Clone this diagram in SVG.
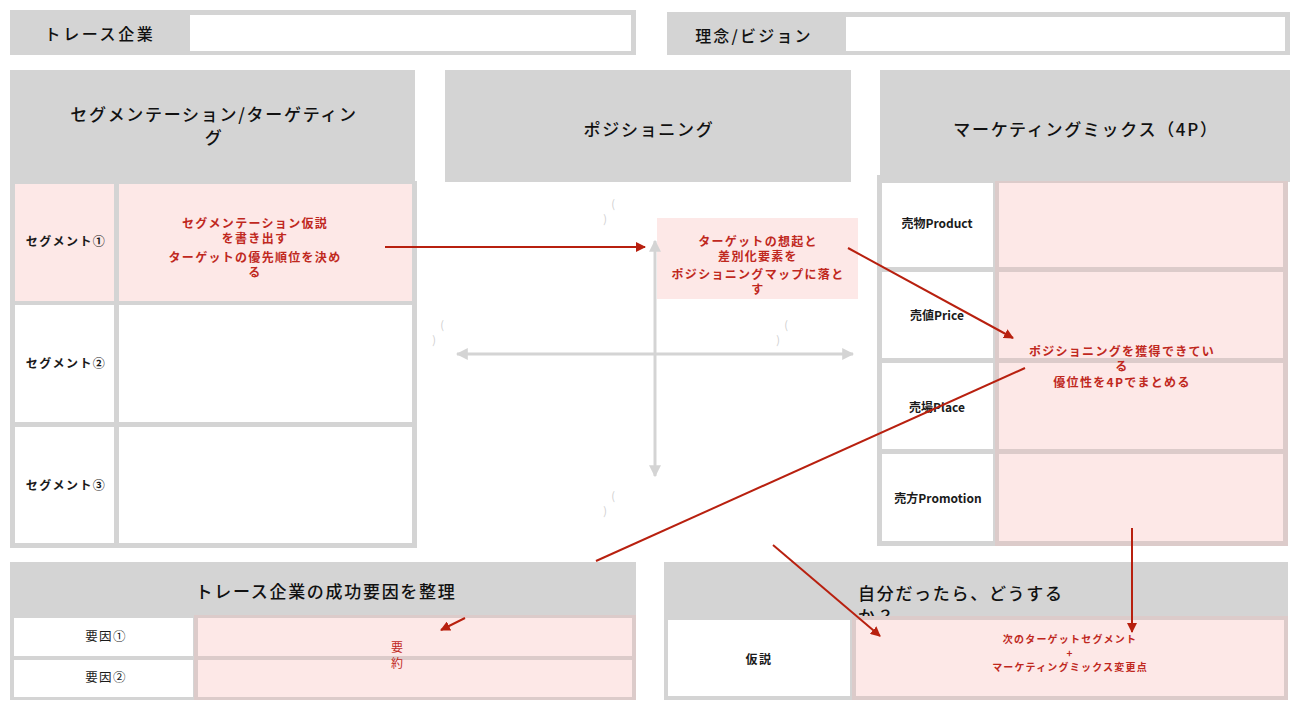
<svg xmlns="http://www.w3.org/2000/svg" width="1304" height="715" viewBox="0 0 1304 715">
<defs>
<marker id="ar" viewBox="0 0 10 10" refX="9" refY="5" markerWidth="5" markerHeight="5" orient="auto-start-reverse" markerUnits="strokeWidth"><path d="M0,0 L10,5 L0,10 z" fill="#b8200f"/></marker>
<marker id="ag" viewBox="0 0 10 10" refX="9" refY="5" markerWidth="4" markerHeight="4" orient="auto-start-reverse" markerUnits="strokeWidth"><path d="M0,0 L10,5 L0,10 z" fill="#d4d4d4"/></marker>
<style>
text{font-family:"Noto Sans CJK JP","Liberation Sans",sans-serif;}
.g{fill:#d4d4d4;}
.w{fill:#ffffff;}
.p{fill:#fde8e7;}
.pb{fill:#dccbca;}
.h{font-size:17px;letter-spacing:1.7px;fill:#111111;text-anchor:middle;font-weight:500;}
.l{font-size:12px;letter-spacing:1.4px;fill:#1a1a1a;text-anchor:middle;font-weight:bold;}
.m{font-size:12px;fill:#1a1a1a;text-anchor:middle;font-weight:bold;}
.r{font-size:12px;letter-spacing:1.3px;fill:#c0281e;text-anchor:middle;font-weight:bold;}
.rs{font-size:10px;letter-spacing:1.2px;fill:#c0281e;text-anchor:middle;font-weight:bold;}
.par{font-size:11px;fill:#cfcfcf;text-anchor:middle;}
.cn{stroke:#b8200f;stroke-width:2;fill:none;marker-end:url(#ar);}
.ax{stroke:#d4d4d4;stroke-width:3;fill:none;marker-end:url(#ag);marker-start:url(#ag);}
</style>
</defs>

<g id="trace-company">
<rect class="g" x="10" y="10" width="175" height="45"/>
<text class="h" x="100" y="40" style="font-size:16px;letter-spacing:2.6px">トレース企業</text>
<rect class="g" x="185" y="10" width="451" height="45"/>
<rect class="w" x="190" y="15" width="441" height="36"/>
</g>

<g id="vision">
<rect class="g" x="667" y="12" width="173" height="43"/>
<text class="h" x="754" y="42" style="font-size:16px;letter-spacing:2.2px">理念/ビジョン</text>
<rect class="g" x="840" y="12" width="450" height="43"/>
<rect class="w" x="846" y="17" width="439" height="34"/>
</g>

<g id="segmentation">
<rect class="g" x="10" y="70" width="405" height="112"/>
<text class="h" x="214" y="121">セグメンテーション/ターゲティン</text>
<text class="h" x="214" y="144">グ</text>
<rect class="g" x="10" y="181" width="407" height="367"/>
<rect class="p" x="15" y="184" width="99" height="117"/>
<rect class="p" x="119" y="184" width="293" height="117"/>
<rect class="w" x="15" y="305" width="99" height="117"/>
<rect class="w" x="119" y="305" width="293" height="117"/>
<rect class="w" x="15" y="427" width="99" height="116"/>
<rect class="w" x="119" y="427" width="293" height="116"/>
<text class="l" x="66" y="246">セグメント①</text>
<text class="l" x="66" y="368">セグメント②</text>
<text class="l" x="66" y="490">セグメント③</text>
<text class="r" x="255" y="228">セグメンテーション仮説</text>
<text class="r" x="255" y="243">を書き出す</text>
<text class="r" x="255" y="262">ターゲットの優先順位を決め</text>
<text class="r" x="255" y="277">る</text>
</g>

<g id="positioning">
<rect class="g" x="445" y="70" width="406" height="112"/>
<text class="h" x="649" y="136">ポジショニング</text>
<rect class="p" x="657" y="218" width="201" height="81"/>
<text class="r" x="758" y="246">ターゲットの想起と</text>
<text class="r" x="758" y="261">差別化要素を</text>
<text class="r" x="758" y="279">ポジショニングマップに落と</text>
<text class="r" x="758" y="294">す</text>
<text class="par" x="613" y="208">(</text>
<text class="par" x="605" y="223">)</text>
<text class="par" x="442" y="329">(</text>
<text class="par" x="434" y="344">)</text>
<text class="par" x="786" y="329">(</text>
<text class="par" x="778" y="344">)</text>
<text class="par" x="613" y="500">(</text>
<text class="par" x="605" y="515">)</text>
</g>

<g id="marketing-mix">
<rect class="g" x="880" y="70" width="410" height="112"/>
<text class="h" x="1086" y="136">マーケティングミックス（4P）</text>
<rect class="g" x="877" y="175" width="411" height="371"/>
<rect class="pb" x="995" y="181" width="293" height="365"/>
<rect class="w" x="882" y="183" width="111" height="84"/>
<rect class="w" x="882" y="272" width="111" height="86"/>
<rect class="w" x="882" y="363" width="111" height="86"/>
<rect class="w" x="882" y="454" width="111" height="87"/>
<rect class="p" x="999" y="183" width="284" height="84"/>
<rect class="p" x="999" y="272" width="284" height="86"/>
<rect class="p" x="999" y="363" width="284" height="86"/>
<rect class="p" x="999" y="454" width="284" height="87"/>
<text class="m" x="937" y="228">売物Product</text>
<text class="m" x="937" y="320">売値Price</text>
<text class="m" x="937" y="412">売場Place</text>
<text class="m" x="938" y="503">売方Promotion</text>
</g>

<g id="success-factors">
<rect class="g" x="10" y="562" width="626" height="54"/>
<text class="h" x="326" y="598">トレース企業の成功要因を整理</text>
<rect class="g" x="10" y="615" width="626" height="85"/>
<rect class="pb" x="194" y="615" width="442" height="85"/>
<rect class="w" x="14" y="618" width="179" height="38"/>
<rect class="w" x="14" y="660" width="179" height="37"/>
<rect class="p" x="198" y="618" width="434" height="38"/>
<rect class="p" x="198" y="660" width="434" height="37"/>
<text class="l" x="106" y="641" style="font-weight:normal;font-size:12.5px">要因①</text>
<text class="l" x="106" y="682" style="font-weight:normal;font-size:12.5px">要因②</text>
<text class="r" x="397" y="652" style="font-weight:normal;letter-spacing:0">要</text>
<text class="r" x="397" y="668" style="font-weight:normal;letter-spacing:0">約</text>
</g>

<g id="my-plan">
<rect class="g" x="664" y="562" width="624" height="54"/>
<text class="h" x="858" y="600" style="text-anchor:start">自分だったら、どうする</text>
<text class="h" x="858" y="623" style="text-anchor:start">か？</text>
<rect class="g" x="664" y="616" width="624" height="84"/>
<rect class="pb" x="852" y="616" width="436" height="84"/>
<rect class="w" x="668" y="620" width="182" height="76"/>
<rect class="p" x="856" y="620" width="428" height="76"/>
<text class="l" x="759" y="664">仮説</text>
<text class="rs" x="1070" y="643">次のターゲットセグメント</text>
<text class="rs" x="1070" y="657">+</text>
<text class="rs" x="1070" y="671">マーケティングミックス変更点</text>
</g>

<g id="axes">
<line class="ax" x1="655" y1="476" x2="655" y2="241"/>
<line class="ax" x1="457" y1="354" x2="853" y2="354"/>
</g>

<g id="mm-text">
<text class="r" x="1122" y="356">ポジショニングを獲得できてい</text>
<text class="r" x="1122" y="371">る</text>
<text class="r" x="1122" y="387">優位性を4Pでまとめる</text>
</g>

<g id="connectors">
<line class="cn" x1="385" y1="247" x2="645" y2="247"/>
<line class="cn" x1="848" y1="248" x2="1013" y2="338"/>
<line class="cn" x1="1025" y1="368" x2="596" y2="561" style="marker-end:none"/>
<line class="cn" x1="465" y1="618" x2="441" y2="630"/>
<line class="cn" x1="773" y1="545" x2="880" y2="636"/>
<line class="cn" x1="1132" y1="528" x2="1132" y2="632"/>
</g>
</svg>
